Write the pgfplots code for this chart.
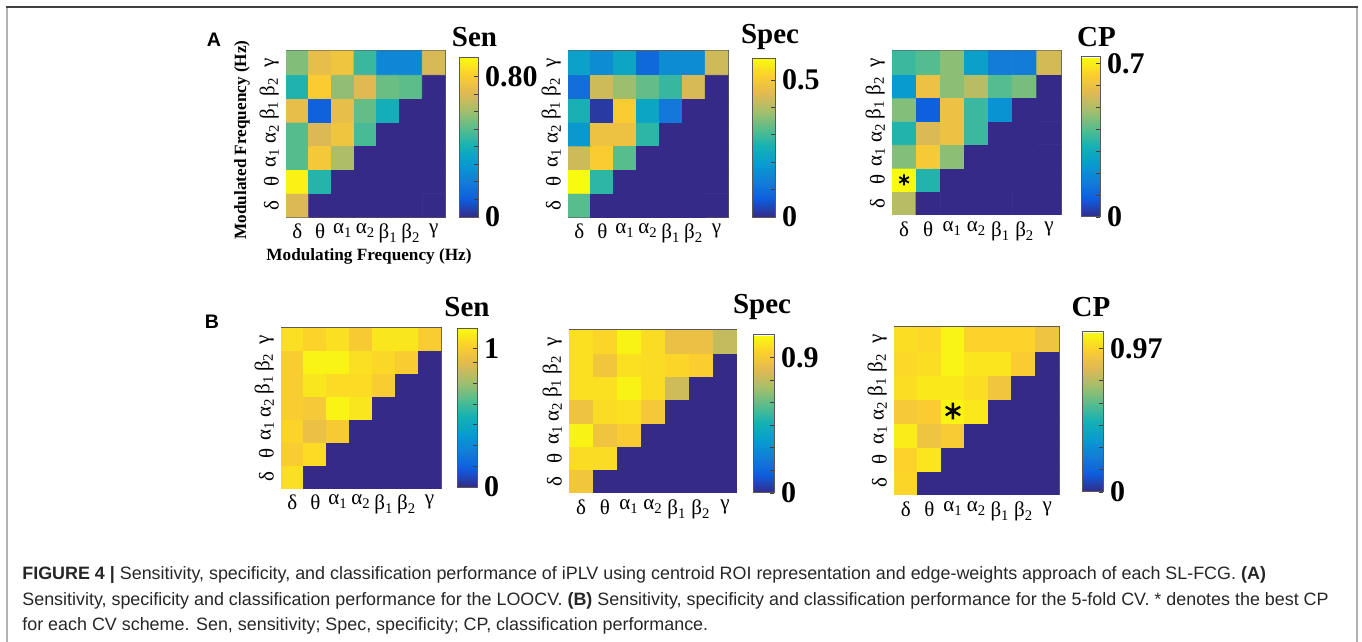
\documentclass[border=0pt]{standalone}
\usepackage{fontspec}
\setmainfont{Liberation Serif}
\newfontfamily\capfont{Liberation Sans}
\usepackage{pgfplots}
\pgfplotsset{compat=1.18}

\pgfplotsset{
  colormap={parula}{
    rgb255=(53,42,135) rgb255=(15,92,221) rgb255=(18,125,216)
    rgb255=(7,156,207) rgb255=(21,177,180) rgb255=(89,189,140)
    rgb255=(165,190,107) rgb255=(225,185,82) rgb255=(252,206,46)
    rgb255=(249,251,14)},
  hm/.style={
    scale only axis,
    xmin=-0.5, xmax=6.5, ymin=-0.5, ymax=6.5,
    colormap name=parula,
    point meta min=0,
    xtick={0,...,6}, ytick={0,...,6},
    xticklabels={δ,θ,α\textsubscript{1},α\textsubscript{2},β\textsubscript{1},β\textsubscript{2},γ},
    yticklabels={δ,θ,α\textsubscript{1},α\textsubscript{2},β\textsubscript{1},β\textsubscript{2},γ},
    tick label style={font=\fontsize{10.5}{11}\selectfont},
    yticklabel style={rotate=90, anchor=south},
    tick align=inside, major tick length=2pt,
    tick style={black!75, line width=0.4pt},
    axis line style={gray!70!black, line width=0.5pt},
    colorbar,
    colorbar style={
      scale only axis,
      at={(parent axis.south east)}, anchor=south west,
      ytick pos=right, yticklabel pos=right,
      tick align=inside, major tick length=2pt, minor tick length=2pt,
      tick style={black!75, line width=0.4pt},
      axis line style={gray!70!black, line width=0.5pt},
      yticklabel style={font=\fontsize{15}{15}\bfseries\selectfont, anchor=west},
    },
  },
}

\begin{document}
\begin{tikzpicture}
\useasboundingbox (0,0) rectangle (681pt,-321pt);
% frame
\draw[gray!60, line width=1pt] (3.5pt,-321pt) -- (3.5pt,-3.5pt);
\draw[gray!60, line width=1pt] (678.5pt,-321pt) -- (678.5pt,-3.5pt);
\draw[black!75, line width=1pt] (3pt,-3.5pt) -- (679pt,-3.5pt);

% ---------- A: LOOCV ----------
\begin{axis}[hm, at={(143pt,-25.5pt)}, anchor=north west,
  width=79.5pt, height=83pt, point meta max=0.91,
  colorbar style={xshift=-1.5pt, width=9.5pt, height=80pt,
    ytick={0,0.8}, yticklabels={0,0.80},
    minor ytick={0.1,0.2,0.3,0.4,0.5,0.6,0.7}}]
\addplot[matrix plot*, mesh/cols=7, point meta=explicit] coordinates {
(0,0)[0.70] (1,0)[0] (2,0)[0] (3,0)[0] (4,0)[0] (5,0)[0] (6,0)[0]
(0,1)[0.89] (1,1)[0.43] (2,1)[0] (3,1)[0] (4,1)[0] (5,1)[0] (6,1)[0]
(0,2)[0.50] (1,2)[0.78] (2,2)[0.62] (3,2)[0] (4,2)[0] (5,2)[0] (6,2)[0]
(0,3)[0.50] (1,3)[0.70] (2,3)[0.76] (3,3)[0.48] (4,3)[0] (5,3)[0] (6,3)[0]
(0,4)[0.73] (1,4)[0.12] (2,4)[0.73] (3,4)[0.52] (4,4)[0.39] (5,4)[0] (6,4)[0]
(0,5)[0.42] (1,5)[0.80] (2,5)[0.58] (3,5)[0.71] (4,5)[0.53] (5,5)[0.51] (6,5)[0]
(0,6)[0.56] (1,6)[0.73] (2,6)[0.76] (3,6)[0.46] (4,6)[0.23] (5,6)[0.23] (6,6)[0.69]
};
\end{axis}

\begin{axis}[hm, at={(284pt,-25.5pt)}, anchor=north west,
  width=80pt, height=83pt, point meta max=0.58,
  colorbar style={xshift=3.5pt, width=11.5pt, height=79.5pt,
    ytick={0,0.5}, yticklabels={0,0.5},
    minor ytick={0.1,0.2,0.3,0.4}}]
\addplot[matrix plot*, mesh/cols=7, point meta=explicit] coordinates {
(0,0)[0.32] (1,0)[0] (2,0)[0] (3,0)[0] (4,0)[0] (5,0)[0] (6,0)[0]
(0,1)[0.58] (1,1)[0.28] (2,1)[0] (3,1)[0] (4,1)[0] (5,1)[0] (6,1)[0]
(0,2)[0.43] (1,2)[0.51] (2,2)[0.32] (3,2)[0] (4,2)[0] (5,2)[0] (6,2)[0]
(0,3)[0.19] (1,3)[0.48] (2,3)[0.48] (3,3)[0.28] (4,3)[0] (5,3)[0] (6,3)[0]
(0,4)[0.26] (1,4)[0.02] (2,4)[0.51] (3,4)[0.22] (4,4)[0.12] (5,4)[0] (6,4)[0]
(0,5)[0.10] (1,5)[0.43] (2,5)[0.38] (3,5)[0.33] (4,5)[0.29] (5,5)[0.44] (6,5)[0]
(0,6)[0.21] (1,6)[0.16] (2,6)[0.22] (3,6)[0.09] (4,6)[0.16] (5,6)[0.16] (6,6)[0.43]
};
\end{axis}

\begin{axis}[hm, at={(446pt,-25.5pt)}, anchor=north west,
  width=84.5pt, height=82pt, point meta max=0.73,
  colorbar style={xshift=1.5pt, yshift=-1pt, width=9.5pt, height=80pt,
    ytick={0,0.7}, yticklabels={0,0.7},
    minor ytick={0.1,0.2,0.3,0.4,0.5,0.6}}]
\addplot[matrix plot*, mesh/cols=7, point meta=explicit] coordinates {
(0,0)[0.51] (1,0)[0] (2,0)[0] (3,0)[0] (4,0)[0] (5,0)[0] (6,0)[0]
(0,1)[0.73] (1,1)[0.34] (2,1)[0] (3,1)[0] (4,1)[0] (5,1)[0] (6,1)[0]
(0,2)[0.45] (1,2)[0.63] (2,2)[0.46] (3,2)[0] (4,2)[0] (5,2)[0] (6,2)[0]
(0,3)[0.34] (1,3)[0.56] (2,3)[0.60] (3,3)[0.37] (4,3)[0] (5,3)[0] (6,3)[0]
(0,4)[0.45] (1,4)[0.09] (2,4)[0.60] (3,4)[0.37] (4,4)[0.22] (5,4)[0] (6,4)[0]
(0,5)[0.24] (1,5)[0.60] (2,5)[0.46] (3,5)[0.51] (4,5)[0.40] (5,5)[0.44] (6,5)[0]
(0,6)[0.37] (1,6)[0.40] (2,6)[0.46] (3,6)[0.26] (4,6)[0.16] (5,6)[0.16] (6,6)[0.55]
};
\addplot[only marks, mark=asterisk, mark size=2.8pt, line width=0.9pt, black] coordinates {(0,1)};
\end{axis}

% ---------- B: 5-fold CV ----------
\begin{axis}[hm, at={(140.5pt,-164pt)}, anchor=north west,
  width=80pt, height=80pt, point meta max=1.15,
  colorbar style={xshift=-0.5pt, yshift=0.5pt, width=10pt, height=79.5pt,
    ytick={0,1}, yticklabels={0,1},
    minor ytick={0.15,0.3,0.45,0.6,0.75,0.9}}]
\addplot[matrix plot*, mesh/cols=7, point meta=explicit] coordinates {
(0,0)[1.07] (1,0)[0] (2,0)[0] (3,0)[0] (4,0)[0] (5,0)[0] (6,0)[0]
(0,1)[1.01] (1,1)[1.06] (2,1)[0] (3,1)[0] (4,1)[0] (5,1)[0] (6,1)[0]
(0,2)[1.04] (1,2)[0.94] (2,2)[1.00] (3,2)[0] (4,2)[0] (5,2)[0] (6,2)[0]
(0,3)[1.01] (1,3)[0.99] (2,3)[1.13] (3,3)[1.09] (4,3)[0] (5,3)[0] (6,3)[0]
(0,4)[1.01] (1,4)[1.09] (2,4)[1.06] (3,4)[1.06] (4,4)[1.01] (5,4)[0] (6,4)[0]
(0,5)[1.01] (1,5)[1.13] (2,5)[1.13] (3,5)[1.07] (4,5)[1.05] (5,5)[1.01] (6,5)[0]
(0,6)[1.07] (1,6)[1.04] (2,6)[1.07] (3,6)[1.00] (4,6)[1.09] (5,6)[1.09] (6,6)[1.01]
};
\end{axis}

\begin{axis}[hm, at={(284.5pt,-165pt)}, anchor=north west,
  width=84pt, height=81.5pt, point meta max=1.05,
  colorbar style={xshift=-0.5pt, width=10.5pt, height=79pt,
    ytick={0,0.9}, yticklabels={0,0.9},
    minor ytick={0.15,0.3,0.45,0.6,0.75}}]
\addplot[matrix plot*, mesh/cols=7, point meta=explicit] coordinates {
(0,0)[0.89] (1,0)[0] (2,0)[0] (3,0)[0] (4,0)[0] (5,0)[0] (6,0)[0]
(0,1)[0.97] (1,1)[0.97] (2,1)[0] (3,1)[0] (4,1)[0] (5,1)[0] (6,1)[0]
(0,2)[1.03] (1,2)[0.88] (2,2)[0.92] (3,2)[0] (4,2)[0] (5,2)[0] (6,2)[0]
(0,3)[0.87] (1,3)[0.97] (2,3)[0.98] (3,3)[0.90] (4,3)[0] (5,3)[0] (6,3)[0]
(0,4)[0.98] (1,4)[0.98] (2,4)[1.03] (3,4)[0.97] (4,4)[0.78] (5,4)[0] (6,4)[0]
(0,5)[0.98] (1,5)[0.89] (2,5)[0.98] (3,5)[0.97] (4,5)[0.95] (5,5)[0.93] (6,5)[0]
(0,6)[0.98] (1,6)[0.95] (2,6)[1.03] (3,6)[0.97] (4,6)[0.86] (5,6)[0.86] (6,6)[0.76]
};
\end{axis}

\begin{axis}[hm, at={(447pt,-163.5pt)}, anchor=north west,
  width=82.5pt, height=84pt, point meta max=1.08,
  colorbar style={xshift=3pt, yshift=1.5pt, width=10.5pt, height=80pt,
    ytick={0,0.97}, yticklabels={0,0.97},
    minor ytick={0.15,0.3,0.45,0.6,0.75}}]
\addplot[matrix plot*, mesh/cols=7, point meta=explicit] coordinates {
(0,0)[0.98] (1,0)[0] (2,0)[0] (3,0)[0] (4,0)[0] (5,0)[0] (6,0)[0]
(0,1)[0.97] (1,1)[1.02] (2,1)[0] (3,1)[0] (4,1)[0] (5,1)[0] (6,1)[0]
(0,2)[1.04] (1,2)[0.90] (2,2)[0.94] (3,2)[0] (4,2)[0] (5,2)[0] (6,2)[0]
(0,3)[0.93] (1,3)[0.95] (2,3)[1.06] (3,3)[1.03] (4,3)[0] (5,3)[0] (6,3)[0]
(0,4)[1.00] (1,4)[1.03] (2,4)[1.03] (3,4)[1.00] (4,4)[0.91] (5,4)[0] (6,4)[0]
(0,5)[0.99] (1,5)[1.00] (2,5)[1.06] (3,5)[1.02] (4,5)[1.02] (5,5)[0.95] (6,5)[0]
(0,6)[1.00] (1,6)[0.99] (2,6)[1.06] (3,6)[0.97] (4,6)[0.97] (5,6)[0.97] (6,6)[0.90]
};
\addplot[only marks, mark=asterisk, mark size=4.2pt, line width=1.2pt, black] coordinates {(2,3)};
\end{axis}

% titles and panel letters
\begin{scope}[every node/.style={font=\fontsize{14.5}{15}\bfseries\selectfont}]
\node at (237.25pt,-18.5pt) {Sen};
\node at (385pt,-18.5pt) {Spec};
\node at (548.25pt,-18.5pt) {CP};
\node at (233.5pt,-153.5pt) {Sen};
\node at (381pt,-153.5pt) {Spec};
\node at (545.5pt,-153.5pt) {CP};
\end{scope}
\node[font=\capfont\bfseries\fontsize{9.8}{10}\selectfont] at (107pt,-20pt) {A};
\node[font=\capfont\bfseries\fontsize{9.8}{10}\selectfont] at (106pt,-161pt) {B};
\node[font=\fontsize{8.6}{9}\bfseries\selectfont, rotate=90] at (121pt,-70pt) {Modulated Frequency (Hz)};
\node[font=\fontsize{8.6}{9}\bfseries\selectfont] at (184.5pt,-128pt) {Modulating Frequency (Hz)};

% caption
\begin{scope}[every node/.style={anchor=base west, inner sep=0pt, text=black!85, font=\capfont\fontsize{8.95}{10}\selectfont}]
\node at (11pt,-289.5pt) {\textbf{FIGURE 4 |} Sensitivity, specificity, and classification performance of iPLV using centroid ROI representation and edge-weights approach of each SL-FCG. \textbf{(A)}};
\node at (11pt,-302.5pt) {Sensitivity, specificity and classification performance for the LOOCV. \textbf{(B)} Sensitivity, specificity and classification performance for the 5-fold CV. * denotes the best CP};
\node at (11pt,-315pt) {for each CV scheme. Sen, sensitivity; Spec, specificity; CP, classification performance.};
\end{scope}
\end{tikzpicture}
\end{document}
